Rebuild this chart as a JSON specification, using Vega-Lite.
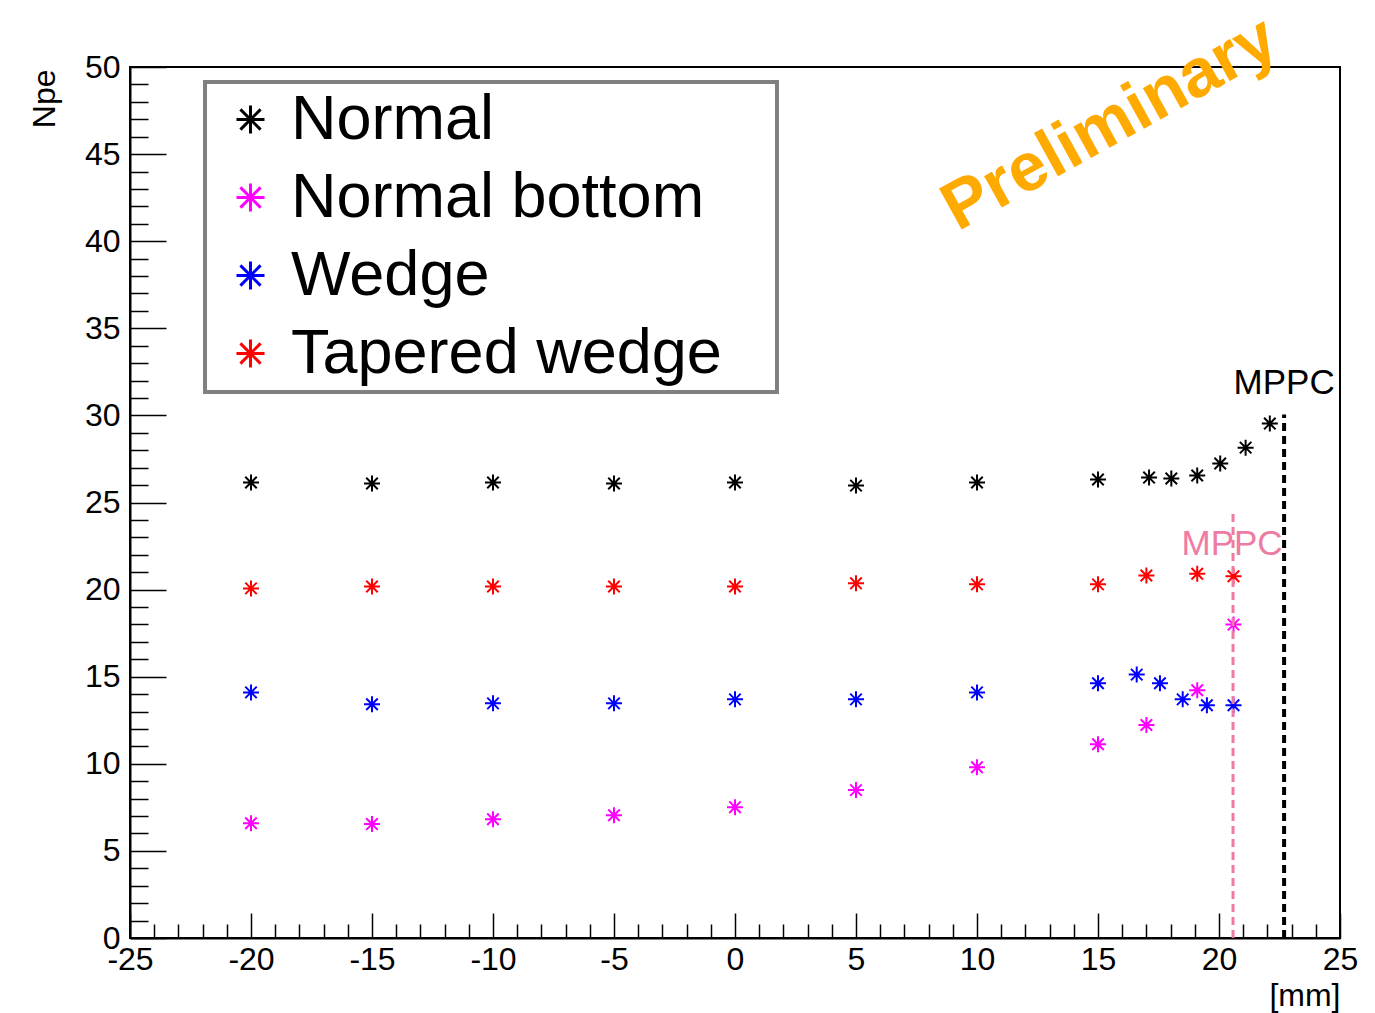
{
  "$schema": "https://vega.github.io/schema/vega-lite/v6.json",
  "width": 1210,
  "height": 871,
  "autosize": {"type": "none"},
  "padding": {"left": 130, "top": 67, "right": 35, "bottom": 75},
  "background": "white",
  "config": {
    "font": "Liberation Sans",
    "view": {"stroke": "black", "strokeWidth": 2},
    "axis": {
      "domainColor": "black", "domainWidth": 2, "tickColor": "black", "tickWidth": 1.5,
      "labelFont": "Liberation Sans", "labelFontSize": 32, "labelColor": "black",
      "titleFont": "Liberation Sans", "titleFontSize": 32, "titleColor": "black", "titleFontWeight": "normal",
      "grid": false, "labelOverlap": false, "labelFlush": false, "labelBound": false, "tickSize": 0
    },
    "legend": {
      "orient": "none", "legendX": 75, "legendY": 15,
      "padding": 6, "strokeColor": "#808080", "strokeWidth": 4, "fillColor": "white",
      "symbolType": "M-1,0L1,0M0,-1L0,1M-0.72,-0.72L0.72,0.72M-0.72,0.72L0.72,-0.72",
      "symbolSize": 784, "symbolStrokeWidth": 3, "symbolOffset": 8,
      "labelFont": "Liberation Sans", "labelFontSize": 63, "labelColor": "black", "labelOffset": 9,
      "labelLimit": 2000, "rowPadding": 14,
      "titleOrient": "right", "titleFontSize": 10, "titlePadding": 49
    }
  },
  "encoding": {
    "x": {
      "field": "x", "type": "quantitative",
      "scale": {"domain": [-25, 25], "nice": false, "zero": false},
      "axis": {
        "title": "[mm]", "titleAnchor": "end", "titleAlign": "right", "titleBaseline": "alphabetic",
        "titleX": 1210, "titleY": 67,
        "values": [-25,-24,-23,-22,-21,-20,-19,-18,-17,-16,-15,-14,-13,-12,-11,-10,-9,-8,-7,-6,-5,-4,-3,-2,-1,0,1,2,3,4,5,6,7,8,9,10,11,12,13,14,15,16,17,18,19,20,21,22,23,24,25],
        "labelExpr": "datum.value % 5 === 0 ? ('' + datum.value) : ''",
        "labelOverlap": false, "labelFlush": false, "tickSize": 0,
        "labelPadding": 6,
        "encoding": {"ticks": {"y2": {"condition": {"test": "datum.value % 5 === 0", "value": -25}, "value": -14}}}
      }
    },
    "y": {
      "field": "y", "type": "quantitative",
      "scale": {"domain": [0, 50], "nice": false},
      "axis": {
        "title": "Npe", "titleAnchor": "end", "titleAlign": "right", "titleAngle": -90, "titleBaseline": "alphabetic",
        "titleX": -76, "titleY": 2,
        "values": [0,1,2,3,4,5,6,7,8,9,10,11,12,13,14,15,16,17,18,19,20,21,22,23,24,25,26,27,28,29,30,31,32,33,34,35,36,37,38,39,40,41,42,43,44,45,46,47,48,49,50],
        "labelExpr": "datum.value % 5 === 0 ? ('' + datum.value) : ''",
        "labelOverlap": false, "tickSize": 0,
        "labelPadding": 10,
        "encoding": {"ticks": {"x2": {"condition": {"test": "datum.value % 5 === 0", "value": 36}, "value": 18}}}
      }
    }
  },
  "layer": [
    {
      "data": {"values": [
        {"series": "Normal", "x": -20, "y": 26.15},
        {"series": "Normal", "x": -15, "y": 26.09},
        {"series": "Normal", "x": -10, "y": 26.15},
        {"series": "Normal", "x": -5, "y": 26.09},
        {"series": "Normal", "x": 0, "y": 26.15},
        {"series": "Normal", "x": 5, "y": 25.97},
        {"series": "Normal", "x": 10, "y": 26.15},
        {"series": "Normal", "x": 15, "y": 26.32},
        {"series": "Normal", "x": 17.11, "y": 26.43},
        {"series": "Normal", "x": 18.03, "y": 26.38},
        {"series": "Normal", "x": 19.1, "y": 26.55},
        {"series": "Normal", "x": 20.05, "y": 27.24},
        {"series": "Normal", "x": 21.1, "y": 28.15},
        {"series": "Normal", "x": 22.1, "y": 29.53},
        {"series": "Normal bottom", "x": -20, "y": 6.59},
        {"series": "Normal bottom", "x": -15, "y": 6.54},
        {"series": "Normal bottom", "x": -10, "y": 6.82},
        {"series": "Normal bottom", "x": -5, "y": 7.05},
        {"series": "Normal bottom", "x": 0, "y": 7.51},
        {"series": "Normal bottom", "x": 5, "y": 8.49},
        {"series": "Normal bottom", "x": 10, "y": 9.8},
        {"series": "Normal bottom", "x": 15, "y": 11.12},
        {"series": "Normal bottom", "x": 17.0, "y": 12.23},
        {"series": "Normal bottom", "x": 19.1, "y": 14.22},
        {"series": "Normal bottom", "x": 20.6, "y": 17.99},
        {"series": "Wedge", "x": -20, "y": 14.1},
        {"series": "Wedge", "x": -15, "y": 13.42},
        {"series": "Wedge", "x": -10, "y": 13.47},
        {"series": "Wedge", "x": -5, "y": 13.47},
        {"series": "Wedge", "x": 0, "y": 13.7},
        {"series": "Wedge", "x": 5, "y": 13.7},
        {"series": "Wedge", "x": 10, "y": 14.1},
        {"series": "Wedge", "x": 15, "y": 14.62},
        {"series": "Wedge", "x": 16.6, "y": 15.12},
        {"series": "Wedge", "x": 17.56, "y": 14.62},
        {"series": "Wedge", "x": 18.5, "y": 13.7},
        {"series": "Wedge", "x": 19.5, "y": 13.36},
        {"series": "Wedge", "x": 20.6, "y": 13.36},
        {"series": "Tapered wedge", "x": -20, "y": 20.07},
        {"series": "Tapered wedge", "x": -15, "y": 20.18},
        {"series": "Tapered wedge", "x": -10, "y": 20.18},
        {"series": "Tapered wedge", "x": -5, "y": 20.18},
        {"series": "Tapered wedge", "x": 0, "y": 20.18},
        {"series": "Tapered wedge", "x": 5, "y": 20.36},
        {"series": "Tapered wedge", "x": 10, "y": 20.3},
        {"series": "Tapered wedge", "x": 15, "y": 20.3},
        {"series": "Tapered wedge", "x": 17.0, "y": 20.81},
        {"series": "Tapered wedge", "x": 19.1, "y": 20.91},
        {"series": "Tapered wedge", "x": 20.6, "y": 20.77}
      ]},
      "mark": {"type": "point", "shape": "M-1,0L1,0M0,-1L0,1M-0.72,-0.72L0.72,0.72M-0.72,0.72L0.72,-0.72", "filled": false, "size": 256, "strokeWidth": 2, "opacity": 1},
      "encoding": {
        "color": {
          "field": "series", "type": "nominal",
          "scale": {"domain": ["Normal", "Normal bottom", "Wedge", "Tapered wedge"], "range": ["#000000", "#ff00ff", "#0000ff", "#ff0000"]},
          "legend": {"title": " "}
        }
      }
    },
    {
      "data": {"values": [{"x": 20.58, "y": 0, "y1": 24.6}]},
      "mark": {"type": "rule", "color": "#ee7ba3", "strokeWidth": 3, "strokeDash": [8, 5]},
      "encoding": {"y2": {"field": "y1"}}
    },
    {
      "data": {"values": [{"x": 22.69, "y": 0, "y1": 30.05}]},
      "mark": {"type": "rule", "color": "#000000", "strokeWidth": 4, "strokeDash": [8, 5]},
      "encoding": {"y2": {"field": "y1"}}
    },
    {
      "data": {"values": [{"x": 20.54, "y": 22.6, "t": "MPPC"}]},
      "mark": {"type": "text", "color": "#ee7ba3", "fontSize": 35, "align": "center", "baseline": "middle"},
      "encoding": {"text": {"field": "t"}}
    },
    {
      "data": {"values": [{"x": 22.69, "y": 31.88, "t": "MPPC"}]},
      "mark": {"type": "text", "color": "#000000", "fontSize": 35, "align": "center", "baseline": "middle"},
      "encoding": {"text": {"field": "t"}}
    },
    {
      "data": {"values": [{"x": 15.5, "y": 46.7, "t": "Preliminary"}]},
      "mark": {"type": "text", "color": "#ffaa00", "fontSize": 68, "fontWeight": "bold", "angle": -29, "align": "center", "baseline": "middle"},
      "encoding": {"text": {"field": "t"}}
    }
  ]
}
